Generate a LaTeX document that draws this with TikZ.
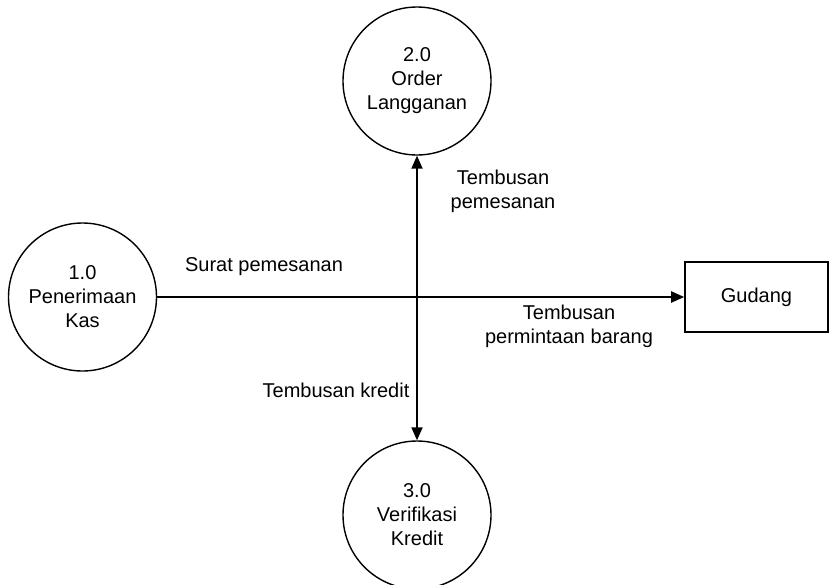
\documentclass[tikz,border=0pt]{standalone}
\usepackage{fontspec}
\setmainfont{Liberation Sans}
\usetikzlibrary{arrows.meta}

\tikzset{
  proses/.style={circle,draw,line width=1.4pt,minimum size=148pt,inner sep=0pt,align=center,font=\fontsize{20}{24}\selectfont},
  entitas/.style={rectangle,draw,line width=1.6pt,minimum width=143pt,minimum height=70pt,inner sep=0pt,font=\fontsize{20}{24}\selectfont},
  lbl/.style={align=center,inner sep=0pt,font=\fontsize{20}{24}\selectfont},
  alir/.style={line width=2pt,-{Triangle[length=13pt,width=11pt]}}
}

\begin{document}
\begin{tikzpicture}[x=1pt,y=-1pt]
  \useasboundingbox (0,0) rectangle (832,584);
  % proses
  \node[proses] (p1) at (82.5,297) {1.0\\Penerimaan\\Kas};
  \node[proses] (p2) at (417,81) {2.0\\Order\\Langganan};
  \node[proses] (p3) at (417,515) {3.0\\Verifikasi\\Kredit};
  % entitas luar
  \node[entitas] (gudang) at (756.5,297) {Gudang};
  % aliran data
  \draw[alir] (p1) -- (gudang);
  \draw[alir,{Triangle[length=13pt,width=11pt]}-{Triangle[length=13pt,width=11pt]}] (p2) -- (p3);
  \node[lbl] (l1) at (264,267) {Surat pemesanan};
  \node[lbl] (l2) at (503,191) {Tembusan\\pemesanan};
  \node[lbl] (l3) at (569,326) {Tembusan\\permintaan barang};
  \node[lbl] (l4) at (336,390) {Tembusan kredit};
\end{tikzpicture}
\end{document}
